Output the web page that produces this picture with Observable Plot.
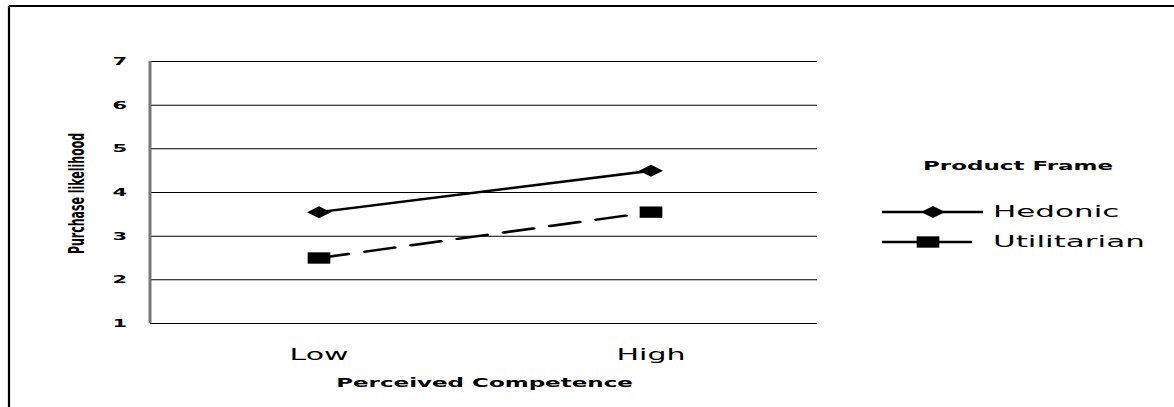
<!DOCTYPE html>
<html><head><meta charset="utf-8">
<script src="https://cdn.jsdelivr.net/npm/d3@7"></script>
<script src="https://cdn.jsdelivr.net/npm/@observablehq/plot@0.6"></script>
<style>
html,body{margin:0;padding:0;background:#fff;}
#chart svg{display:block;}
</style></head><body><div id="chart"></div>
<script>
const categories = ["Low", "High"];
const seriesNames = ["Hedonic", "Utilitarian"];
const hedonic = [3.55, 4.5];
const utilitarian = [2.5, 3.55];
const yTicks = [1, 2, 3, 4, 5, 6, 7];
const xLabel = "Perceived Competence";
const yLabel = "Purchase likelihood";
const legendTitle = "Product Frame";

const data = [
  ...categories.map((c, i) => ({frame: seriesNames[0], level: c, value: hedonic[i]})),
  ...categories.map((c, i) => ({frame: seriesNames[1], level: c, value: utilitarian[i]}))
];
const hed = data.filter(d => d.frame === seriesNames[0]);
const uti = data.filter(d => d.frame === seriesNames[1]);

// The reference is horizontally stretched 2x: draw at half width, then stretch the SVG.
const W = 587, H = 407, SX = 2;
const FONT = "DejaVu Sans";
const chart = Plot.plot({
  width: W, height: H,
  marginLeft: 75, marginRight: 178.5, marginTop: 61, marginBottom: 84,
  style: {fontFamily: FONT, background: "#fff", color: "#000", overflow: "visible"},
  x: {type: "point", domain: categories, padding: 0.5, label: null},
  y: {domain: [1, 7], ticks: yTicks, label: null},
  marks: [
    Plot.ruleY(yTicks, {stroke: "#000", strokeWidth: 1}),
    Plot.axisY({ticks: yTicks, tickSize: 0, tickPadding: 12, fontSize: 10.5, fontWeight: "bold", tickFormat: d => String(d), label: null}),
    Plot.axisX({tickSize: 0, tickPadding: 26, fontSize: 15, label: null}),
    Plot.text([xLabel], {frameAnchor: "bottom", dy: 63, text: d => d, fontSize: 11.5, fontWeight: "bold", textAnchor: "middle"}),
    Plot.text([yLabel], {frameAnchor: "left", dx: -37, dy: 1, rotate: -90, text: d => d, fontSize: 11, fontWeight: "bold", textAnchor: "middle"}),
    Plot.line(hed, {x: "level", y: "value", stroke: "#000", strokeWidth: 2.5}),
    Plot.line(uti, {x: "level", y: "value", stroke: "#000", strokeWidth: 2.5, strokeDasharray: "15,9"}),
    Plot.dot(hed, {x: "level", y: "value", symbol: "diamond2", r: 5.4, fill: "#000"}),
    Plot.dot(uti, {x: "level", y: "value", symbol: "square", r: 6.4, fill: "#000"})
  ]
});

chart.setAttribute("width", W * SX);
chart.setAttribute("height", H);
chart.setAttribute("preserveAspectRatio", "none");
chart.style.width = (W * SX) + "px";
chart.style.height = H + "px";
chart.style.maxWidth = "none";

const svg = d3.select(chart);
const y = chart.scale("y");

// gray left axis line
svg.append("line")
  .attr("x1", 75).attr("x2", 75)
  .attr("y1", y.apply(7)).attr("y2", y.apply(1))
  .attr("stroke", "#777").attr("stroke-width", 1.5);

// outer frame (left and top)
svg.append("line").attr("x1", 4.5).attr("x2", 4.5).attr("y1", 6).attr("y2", H)
  .attr("stroke", "#000").attr("stroke-width", 1.1);
svg.append("line").attr("x1", 4.5).attr("x2", W).attr("y1", 6).attr("y2", 6)
  .attr("stroke", "#000").attr("stroke-width", 2);

// legend
const lg = svg.append("g").attr("font-family", FONT).attr("fill", "#000").attr("text-anchor", "start");
lg.append("text").attr("x", 461.5).attr("y", 166).attr("dy", "0.35em")
  .attr("font-size", 11.5).attr("font-weight", "bold").text(legendTitle);
const items = [
  {name: seriesNames[0], y: 212, x2: 491.5, mx: 466.5, sym: d3.symbolDiamond2, size: Math.PI * 5.4 * 5.4},
  {name: seriesNames[1], y: 242, x2: 486, mx: 464, sym: d3.symbolSquare, size: Math.PI * 6.4 * 6.4}
];
for (const it of items) {
  lg.append("line").attr("x1", 441).attr("x2", it.x2).attr("y1", it.y).attr("y2", it.y)
    .attr("stroke", "#000").attr("stroke-width", 2.5);
  lg.append("path").attr("d", d3.symbol(it.sym, it.size)())
    .attr("transform", `translate(${it.mx},${it.y})`).attr("fill", "#000");
  lg.append("text").attr("x", 496.5).attr("y", it.y).attr("dy", "0.35em")
    .attr("font-size", 15.5).text(it.name);
}

document.getElementById("chart").appendChild(chart);
</script>
</body></html>
